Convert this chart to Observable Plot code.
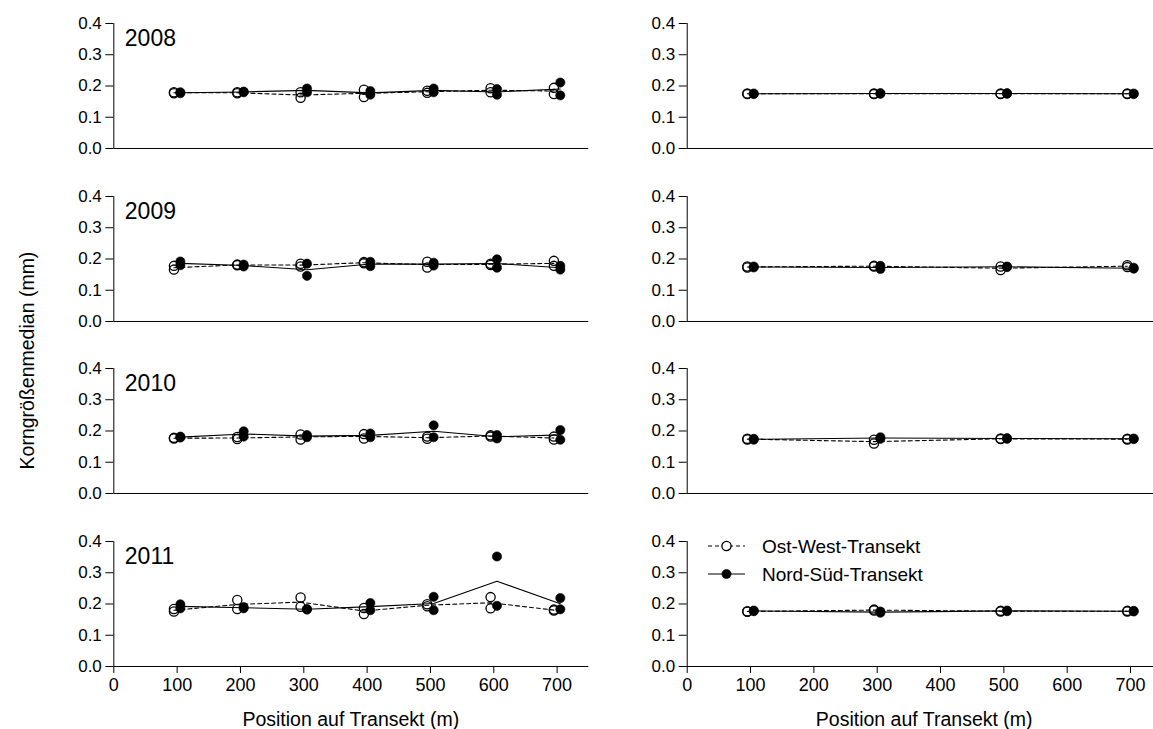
<!DOCTYPE html>
<html>
<head>
<meta charset="utf-8">
<script src="https://cdn.jsdelivr.net/npm/d3@7"></script>
<script src="https://cdn.jsdelivr.net/npm/@observablehq/plot@0.6"></script>
<style>
  html, body { margin: 0; padding: 0; background: #fff; overflow: hidden; }
  #chart { position: relative; width: 1153px; height: 729px; overflow: hidden;
           font-family: "Liberation Sans", Arial, Helvetica, sans-serif; color: #000; }
  #chart svg { position: absolute; }
</style>
</head>
<body>
<div id="chart"></div>
<script>
// ---- data -----------------------------------------------------------------
const years = ["2008", "2009", "2010", "2011"];
const positionsWide = [100, 200, 300, 400, 500, 600, 700];
const positionsNarrow = [100, 300, 500, 700];
const xTicks = [0, 100, 200, 300, 400, 500, 600, 700];
const yTicks = [0, 0.1, 0.2, 0.3, 0.4];
const seriesNames = ["Ost-West-Transekt", "Nord-Süd-Transekt"];
const xTitle = "Position auf Transekt (m)";
const yTitle = "Korngrößenmedian (mm)";

// grain-size medians (mm), two samples per transect position
const ostWest2008 = [[0.180, 0.177], [0.180, 0.177], [0.180, 0.162], [0.188, 0.165], [0.185, 0.178], [0.193, 0.180], [0.194, 0.174]];
const nordSued2008 = [[0.180, 0.177], [0.182, 0.180], [0.192, 0.180], [0.184, 0.172], [0.192, 0.180], [0.190, 0.172], [0.211, 0.170]];
const ostWest2009 = [[0.178, 0.166], [0.182, 0.180], [0.185, 0.176], [0.190, 0.186], [0.191, 0.173], [0.185, 0.181], [0.194, 0.178]];
const nordSued2009 = [[0.192, 0.180], [0.182, 0.176], [0.185, 0.146], [0.191, 0.177], [0.188, 0.179], [0.199, 0.172], [0.178, 0.166]];
const ostWest2010 = [[0.178, 0.176], [0.181, 0.174], [0.189, 0.173], [0.190, 0.176], [0.182, 0.175], [0.186, 0.182], [0.182, 0.173]];
const nordSued2010 = [[0.182, 0.179], [0.199, 0.182], [0.187, 0.180], [0.192, 0.180], [0.218, 0.180], [0.187, 0.176], [0.203, 0.172]];
const ostWest2011 = [[0.184, 0.176], [0.213, 0.184], [0.221, 0.191], [0.187, 0.168], [0.199, 0.193], [0.222, 0.186], [0.182, 0.179]];
const nordSued2011 = [[0.199, 0.186], [0.190, 0.186], [0.184, 0.182], [0.203, 0.180], [0.223, 0.180], [0.352, 0.194], [0.219, 0.183]];

// second series of transects, sampled every 200 m
const ostWestB2008 = [[0.176, 0.174], [0.176, 0.174], [0.176, 0.174], [0.176, 0.174]];
const nordSuedB2008 = [[0.176, 0.174], [0.177, 0.175], [0.177, 0.175], [0.176, 0.174]];
const ostWestB2009 = [[0.176, 0.173], [0.178, 0.176], [0.176, 0.165], [0.180, 0.174]];
const nordSuedB2009 = [[0.176, 0.173], [0.178, 0.168], [0.176, 0.174], [0.172, 0.169]];
const ostWestB2010 = [[0.175, 0.173], [0.172, 0.160], [0.176, 0.174], [0.175, 0.173]];
const nordSuedB2010 = [[0.175, 0.172], [0.180, 0.175], [0.177, 0.175], [0.176, 0.174]];
const ostWestB2011 = [[0.177, 0.175], [0.182, 0.179], [0.178, 0.176], [0.178, 0.176]];
const nordSuedB2011 = [[0.179, 0.177], [0.176, 0.172], [0.179, 0.177], [0.178, 0.176]];

const leftColumn = [
  [ostWest2008, nordSued2008], [ostWest2009, nordSued2009],
  [ostWest2010, nordSued2010], [ostWest2011, nordSued2011]
];
const rightColumn = [
  [ostWestB2008, nordSuedB2008], [ostWestB2009, nordSuedB2009],
  [ostWestB2010, nordSuedB2010], [ostWestB2011, nordSuedB2011]
];

// ---- layout ---------------------------------------------------------------
const frameW = 475, frameH = 125, rowStep = 172.5, firstTop = 23.3;
const mTop = 15, mRight = 12;
const columns = [
  {left: 0, marginLeft: 113.3, panels: leftColumn, positions: positionsWide, showYear: true},
  {left: 600, marginLeft: 86.7, panels: rightColumn, positions: positionsNarrow, showYear: false}
];
const shift = 3.2;   // horizontal nudge separating the two transects at a position
const font = '"Liberation Sans", Arial, Helvetica, sans-serif';
const chart = document.getElementById("chart");

function samples(positions, values) {
  return positions.flatMap((p, i) => values[i].map(v => ({position: p, median: v})));
}
function means(positions, values) {
  return positions.map((p, i) => ({position: p, median: d3.mean(values[i])}));
}

columns.forEach(col => {
  col.panels.forEach(([ow, ns], row) => {
    const bottom = row === col.panels.length - 1;
    const mBottom = bottom ? 40 : 10;
    const marks = [
      Plot.ruleY([0], {stroke: "#000", strokeWidth: 1}),
      Plot.ruleX([0], {stroke: "#000", strokeWidth: 1}),
      Plot.line(means(col.positions, ow), {x: "position", y: "median", dx: -shift,
        stroke: "#000", strokeWidth: 1.1, strokeDasharray: "4,3"}),
      Plot.line(means(col.positions, ns), {x: "position", y: "median", dx: shift,
        stroke: "#000", strokeWidth: 1.1}),
      Plot.dot(samples(col.positions, ow), {x: "position", y: "median", dx: -shift,
        r: 4.6, stroke: "#000", strokeWidth: 1.3, fill: "none"}),
      Plot.dot(samples(col.positions, ns), {x: "position", y: "median", dx: shift,
        r: 4.6, stroke: "#000", strokeWidth: 0.6, fill: "#000"}),
      Plot.axisY({ticks: yTicks, tickFormat: d3.format(".1f"), tickSize: 8, tickPadding: 4,
        fontSize: 17, label: null})
    ];
    if (bottom) {
      marks.push(Plot.axisX({ticks: xTicks, tickFormat: d3.format("d"), tickSize: 7,
        tickPadding: 5, fontSize: 18, label: null}));
    }
    if (col.showYear) {
      marks.push(Plot.text([years[row]], {frameAnchor: "top-left", text: d => d,
        dx: 11, dy: 6, lineAnchor: "top", textAnchor: "start", fontSize: 23, fill: "#000"}));
    }
    const svg = Plot.plot({
      width: col.marginLeft + frameW + mRight,
      height: mTop + frameH + mBottom,
      marginLeft: col.marginLeft, marginRight: mRight,
      marginTop: mTop, marginBottom: mBottom,
      x: {domain: [0, 750], axis: bottom ? undefined : null},
      y: {domain: [0, 0.4]},
      style: {fontFamily: font, fontSize: "17px", color: "#000", background: "transparent", overflow: "visible"},
      marks
    });
    svg.style.left = col.left + "px";
    svg.style.top = (firstTop + row * rowStep - mTop) + "px";
    chart.appendChild(svg);
  });
});

// ---- titles and legend ----------------------------------------------------
const overlay = d3.select(chart).append("svg")
  .attr("width", 1153).attr("height", 729)
  .style("left", "0px").style("top", "0px")
  .style("font-family", font);

const bottomAxisY = firstTop + 3 * rowStep + frameH;
columns.forEach(col => {
  overlay.append("text")
    .attr("x", col.left + col.marginLeft + frameW / 2)
    .attr("y", bottomAxisY + 60)
    .attr("text-anchor", "middle")
    .attr("font-size", 19.5)
    .text(xTitle);
});

overlay.append("text")
  .attr("transform", `translate(34, ${firstTop + (3 * rowStep + frameH) / 2 + 16}) rotate(-90)`)
  .attr("text-anchor", "middle")
  .attr("font-size", 19.5)
  .text(yTitle);

// legend in the lower right panel
const legend = overlay.append("g").attr("transform", "translate(708, 546)");
seriesNames.forEach((name, i) => {
  const g = legend.append("g").attr("transform", `translate(0, ${i * 28})`);
  g.append("line").attr("x1", 0).attr("x2", 37).attr("y1", 0).attr("y2", 0)
    .attr("stroke", "#000").attr("stroke-width", 1.1)
    .attr("stroke-dasharray", i === 0 ? "4,3" : null);
  g.append("circle").attr("cx", 18.5).attr("cy", 0).attr("r", 4.6)
    .attr("fill", i === 0 ? "#fff" : "#000").attr("stroke", "#000")
    .attr("stroke-width", i === 0 ? 1.3 : 0.6);
  g.append("text").attr("x", 54).attr("y", 7).attr("font-size", 19).text(name);
});
</script>
</body>
</html>
